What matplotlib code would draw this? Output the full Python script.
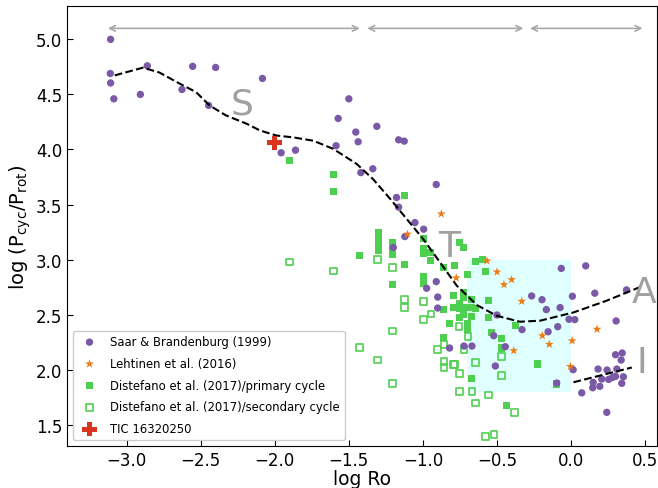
import matplotlib
matplotlib.use("Agg")
import matplotlib.pyplot as plt
from matplotlib.patches import Rectangle

# Saar & Brandenburg (1999)
sb_x = [-3.108, -3.11, -3.108, -3.086, -2.907, -2.86, -2.626, -2.554, -2.446, -2.399,
        -2.083, -1.957, -1.86, -1.586, -1.572, -1.50, -1.453, -1.437, -1.419, -1.338,
        -1.311, -1.164, -1.126, -0.91, -1.178, -1.164, -1.054, -0.995, -1.122, -1.20,
        -0.91, -0.975, -0.90, -0.90, -0.50, -0.522, -0.331, -0.266, -0.196, -0.167,
        -0.074, -0.066, 0.009, -0.014, 0.025, -0.155, -0.09, 0.099, 0.16, 0.374,
        0.304, -0.82, -0.723, -0.669, -0.444, -0.511, -0.097, 0.014, 0.072, 0.241,
        0.146, 0.149, 0.194, 0.182, 0.207, 0.243, 0.254, 0.28, 0.30, 0.309,
        0.338, 0.30, 0.345, 0.342, 0.353]
sb_y = [5.0, 4.69, 4.604, 4.46, 4.50, 4.76, 4.545, 4.755, 4.40, 4.745,
        4.645, 3.97, 3.994, 4.034, 4.282, 4.46, 4.158, 4.07, 3.79, 3.825,
        4.21, 4.088, 4.076, 3.682, 3.564, 3.476, 3.336, 3.276, 3.209, 3.11,
        2.80, 2.74, 2.66, 2.56, 2.497, 2.309, 2.364, 2.67, 2.636, 2.546,
        2.564, 2.92, 2.667, 2.458, 2.455, 2.345, 2.391, 2.943, 2.695, 2.725,
        2.443, 2.197, 2.215, 2.215, 2.209, 2.034, 1.879, 2.0, 1.79, 1.613,
        1.836, 1.885, 1.849, 2.006, 1.915, 1.997, 1.912, 1.93, 1.94, 2.006,
        2.088, 2.136, 2.152, 1.876, 1.936]

# Lehtinen et al. (2016)
le_x = [-0.876, -1.104, -0.775, -0.568, -0.50, -0.401, -0.453, -0.333, -0.194, -0.147,
        -0.387, 0.007, -0.005, 0.175]
le_y = [3.415, 3.231, 2.834, 2.988, 2.888, 2.818, 2.773, 2.622, 2.309, 2.231,
        2.173, 2.263, 2.03, 2.368]

# Distefano et al. (2017) primary cycle
dp_x = [-1.903, -1.601, -1.601, -1.122, -1.426, -1.297, -1.297, -1.297, -1.297, -1.203,
        -1.203, -1.203, -1.122, -1.203, -0.998, -0.998, -0.998, -0.948, -0.948, -0.858,
        -0.786, -0.755, -0.723, -0.696, -0.644, -0.597, -0.577, -0.998, -0.998, -0.791,
        -0.723, -0.723, -0.669, -0.556, -0.858, -0.791, -0.755, -0.755, -0.723, -0.696,
        -0.669, -0.642, -0.755, -0.723, -0.669, -0.696, -0.696, -0.556, -0.82, -0.378,
        -0.538, -0.468, -0.468, -0.225, -0.858, -0.669, -0.437, -0.097]
dp_y = [3.90, 3.773, 3.615, 3.582, 3.04, 3.25, 3.19, 3.13, 3.08, 3.158,
        3.097, 3.043, 2.955, 2.773, 3.194, 3.097, 3.052, 3.067, 2.99, 2.925,
        2.945, 3.158, 3.113, 2.864, 2.982, 2.997, 2.891, 2.845, 2.779, 2.673,
        2.704, 2.658, 2.636, 2.627, 2.546, 2.567, 2.597, 2.552, 2.561, 2.567,
        2.567, 2.558, 2.476, 2.506, 2.485, 2.415, 2.37, 2.473, 2.418, 2.40,
        2.334, 2.285, 2.197, 2.052, 2.291, 1.921, 1.676, 1.87]

# Distefano et al. (2017) secondary cycle
ds_x = [-1.903, -1.601, -1.426, -1.306, -1.306, -1.203, -1.122, -1.122, -0.998, -0.946,
        -0.998, -1.203, -1.203, -0.90, -0.858, -0.858, -0.858, -0.786, -0.757, -0.696,
        -0.723, -0.468, -0.644, -0.791, -0.755, -0.468, -0.755, -0.669, -0.556, -0.644,
        -0.383, -0.579, -0.52]
ds_y = [2.979, 2.897, 2.204, 2.088, 3.0, 2.927, 2.636, 2.567, 2.622, 2.506,
        2.458, 2.352, 1.873, 2.182, 2.231, 2.074, 2.022, 2.045, 2.39, 2.30,
        2.186, 2.122, 2.062, 2.047, 1.964, 1.945, 1.804, 1.804, 1.77, 1.697,
        1.613, 1.394, 1.413]

# TIC 16320250
tic_x = [-2.0]
tic_y = [4.06]

# dashed trend curves
curve_x = [-3.08, -2.89, -2.78, -2.64, -2.53, -2.44, -2.33, -2.19, -2.10, -1.99,
           -1.876, -1.74, -1.606, -1.448, -1.336, -1.22, -1.11, -1.0, -0.885, -0.772,
           -0.637, -0.502, -0.345, -0.21, 0.016, 0.24, 0.49]
curve_y = [4.673, 4.743, 4.70, 4.597, 4.52, 4.40, 4.31, 4.234, 4.173, 4.127,
           4.11, 4.08, 4.006, 3.87, 3.73, 3.55, 3.37, 3.19, 2.976, 2.764,
           2.588, 2.49, 2.436, 2.445, 2.52, 2.627, 2.764]
iline_x = [0.016, 0.41]
iline_y = [1.886, 2.02]

# branch ranges (arrows)
arrow_ranges = [(-3.126, -1.426), (-1.376, -0.322), (-0.277, 0.482)]
arrow_y = 5.10

branch_labels = ["S", "T", "A", "I"]
branch_x = [-2.22, -0.82, 0.49, 0.48]
branch_y = [4.415, 3.12, 2.71, 2.07]

purple = "#7a59a6"
orange = "#ee7a12"
green = "#4fcf50"
red = "#d93420"

fig = plt.figure(figsize=(6.58, 4.89), dpi=100)
ax = fig.add_axes([0.1023, 0.0865, 0.8962, 0.8985])

ax.add_patch(Rectangle((-0.7, 1.8), 0.7, 1.2, facecolor="#e0ffff", edgecolor="none", zorder=0))

ax.plot(curve_x, curve_y, color="black", ls="--", lw=1.5, zorder=5)
ax.plot(iline_x, iline_y, color="black", ls="--", lw=1.5, zorder=5)

h1 = ax.scatter(sb_x, sb_y, s=28, color=purple, edgecolors="none", zorder=4,
                label="Saar & Brandenburg (1999)")
h2 = ax.scatter(le_x, le_y, s=45, marker="*", color=orange, edgecolors="none", zorder=6,
                label="Lehtinen et al. (2016)")
h3 = ax.scatter(dp_x, dp_y, s=26, marker="s", color=green, edgecolors="none", zorder=3,
                label="Distefano et al. (2017)/primary cycle")
h4 = ax.scatter(ds_x, ds_y, s=24, marker="s", facecolors="none", edgecolors=green,
                linewidths=1.2, zorder=2, label="Distefano et al. (2017)/secondary cycle")
h5 = ax.scatter(tic_x, tic_y, s=110, marker="P", color=red, edgecolors="none", zorder=7,
                label="TIC 16320250")

for (a, b) in arrow_ranges:
    ax.annotate("", xy=(b, arrow_y), xytext=(a, arrow_y),
                arrowprops=dict(arrowstyle="<->", color="#a8a8a8", lw=1.2,
                                shrinkA=0, shrinkB=0))

for t, x, y in zip(branch_labels, branch_x, branch_y):
    ax.text(x, y, t, fontsize=26, color="#a0a0a0", ha="center", va="center", zorder=8)

ax.set_xlim(-3.40, 0.58)
ax.set_ylim(1.31, 5.30)
ax.set_xticks([-3.0, -2.5, -2.0, -1.5, -1.0, -0.5, 0.0, 0.5])
ax.set_yticks([1.5, 2.0, 2.5, 3.0, 3.5, 4.0, 4.5, 5.0])
ax.tick_params(direction="in", labelsize=12, length=4)
ax.set_xlabel("log Ro", fontsize=13.5, labelpad=0)
ax.set_ylabel(r"log (P$_{\rm cyc}$/P$_{\rm rot}$)", fontsize=14, labelpad=2)

ax.legend(handles=[h1, h2, h3, h4, h5], loc="lower left", fontsize=8.4,
          labelspacing=0.75, framealpha=1)

fig.savefig("out.png", dpi=100)
